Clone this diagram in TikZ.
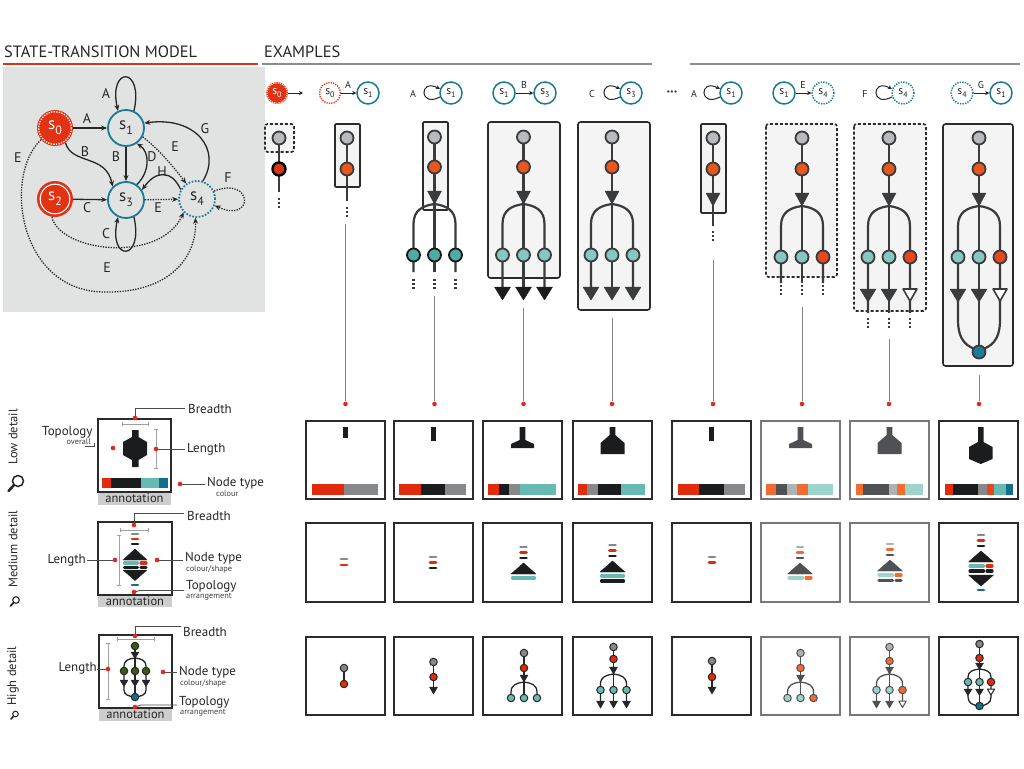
\documentclass[tikz,border=0pt]{standalone}
\usepackage{fontspec}
\setmainfont{PT Sans}
\usetikzlibrary{arrows.meta}
\definecolor{redS}{RGB}{226,50,20}
\definecolor{tealS}{RGB}{26,122,150}
\definecolor{bgG}{RGB}{225,226,226}
\definecolor{lineD}{RGB}{58,59,61}
\definecolor{nGray}{RGB}{185,186,189}
\definecolor{nOrange}{RGB}{232,88,30}
\definecolor{nRed}{RGB}{217,56,15}
\definecolor{nRed2}{RGB}{230,72,25}
\definecolor{nTeal}{RGB}{78,172,163}
\definecolor{nLTeal}{RGB}{134,200,192}
\definecolor{nBlue}{RGB}{30,122,152}
\definecolor{boxF}{RGB}{244,244,244}
\definecolor{bRed}{RGB}{226,42,12}
\definecolor{bBlack}{RGB}{27,28,30}
\definecolor{bGray}{RGB}{135,136,138}
\definecolor{bTeal}{RGB}{102,186,178}
\definecolor{bDTeal}{RGB}{20,112,138}
\definecolor{bOrange}{RGB}{242,107,48}
\definecolor{bDGray}{RGB}{80,81,85}
\definecolor{bLGray}{RGB}{176,177,179}
\definecolor{bLTeal}{RGB}{157,213,205}
\definecolor{olive}{RGB}{62,88,22}
\definecolor{dotR}{RGB}{232,37,26}
\definecolor{thinG}{RGB}{130,130,130}
\definecolor{boxK}{RGB}{43,43,43}
\definecolor{boxGr}{RGB}{120,120,122}
\definecolor{lineGr}{RGB}{140,140,140}
\definecolor{annG}{RGB}{205,205,205}
\definecolor{brkG}{RGB}{160,160,160}
% down triangle: x, ytop, halfwidth, height, style
\newcommand{\dtri}[5]{\filldraw[#5] ({#1-#3},#2) -- ({#1+#3},#2) -- (#1,{#2+#4}) -- cycle;}
% up triangle: x, ybase, halfwidth, height, style
\newcommand{\utri}[5]{\filldraw[#5] ({#1-#3},#2) -- ({#1+#3},#2) -- (#1,{#2-#4}) -- cycle;}
% branches: cx, ystart, dx, curve length, yend, style
\newcommand{\brn}[6]{%
 \draw[#6] (#1,#2) .. controls ({#1-0.55*#3},{#2+0.08*#4}) and ({#1-#3},{#2+0.3*#4}) .. ({#1-#3},{#2+#4}) -- ({#1-#3},#5);
 \draw[#6] (#1,#2) .. controls ({#1+0.55*#3},{#2+0.08*#4}) and ({#1+#3},{#2+0.3*#4}) .. ({#1+#3},{#2+#4}) -- ({#1+#3},#5);
 \draw[#6] (#1,#2) -- (#1,#5);}
% merge: cx, ystart, dx, curve length, yend, style
\newcommand{\mrg}[6]{%
 \draw[#6] ({#1-#3},#2) -- ({#1-#3},{#5-#4}) .. controls ({#1-#3},{#5-0.3*#4}) and ({#1-0.55*#3},{#5-0.08*#4}) .. (#1,#5);
 \draw[#6] ({#1+#3},#2) -- ({#1+#3},{#5-#4}) .. controls ({#1+#3},{#5-0.3*#4}) and ({#1+0.55*#3},{#5-0.08*#4}) .. (#1,#5);
 \draw[#6] (#1,#2) -- (#1,#5);}
\newcommand{\tdots}[3]{\draw[dotsty] (#1,#2) -- (#1,#3);}
\newcommand{\hb}[5]{\fill[#5] (#1,#3) rectangle (#2,#4);}
\newcommand{\mdash}[3]{\draw[mdst,#3] ({#1-3},#2) -- ({#1+3},#2);}
\newcommand{\mbar}[4]{\draw[mbst,#4] ({#1+1.5},#3) -- ({#2-1.5},#3);}
\newcommand{\sn}[2]{s\raisebox{-0.28em}{\fontsize{#2}{#2}\selectfont #1}}
\begin{document}
\begin{tikzpicture}[x=1pt,y=-1pt,
  title/.style={font=\fontsize{16.4}{16.4}\selectfont, text=black!85, inner sep=0},
  sred/.style={circle, minimum size=36, inner sep=0, fill=redS, text=white, font=\fontsize{17}{17}\selectfont},
  st/.style={circle, minimum size=36, inner sep=0, draw=tealS, line width=1.8, fill=bgG, text=black!85, font=\fontsize{17}{17}\selectfont},
  edge/.style={line width=1.3, draw=black!85, -{Stealth[length=6pt,width=5pt]}},
  dotl/.style={dash pattern=on 1.3pt off 1.3pt},
  lab/.style={font=\fontsize{14}{14}\selectfont, text=black!85, inner sep=1},
  sm/.style={circle, minimum size=22, inner sep=0, draw=tealS, line width=1.5, fill=white, text=black!85, font=\fontsize{11.5}{11.5}\selectfont},
  smout/.style={circle, minimum size=21, inner sep=0, draw=redS, line width=1.4, dash pattern=on 1.2pt off 1.2pt, fill=white, text=black!85, font=\fontsize{11.5}{11.5}\selectfont},
  smred/.style={circle, minimum size=22, inner sep=0, fill=redS, text=white, font=\fontsize{11.5}{11.5}\selectfont},
  smedge/.style={line width=1, draw=black!85, -{Stealth[length=4pt,width=4pt]}},
  smlab/.style={font=\fontsize{10}{10}\selectfont, text=black!85, inner sep=1},
  tnode/.style={circle, minimum size=13, inner sep=0, line width=1.8, draw=lineD},
  tline/.style={line width=2.2, draw=lineD},
  tri/.style={fill=lineD, draw=lineD, line width=0.5, line join=round},
  exbox/.style={line width=1.6, draw=boxK, fill=boxF, rounded corners=2.5},
  exdash/.style={line width=1.6, draw=boxK, fill=boxF, rounded corners=2.5, dash pattern=on 3pt off 2pt},
  dotsty/.style={line width=2.2, draw=lineD, dash pattern=on 2pt off 2pt},
  thinl/.style={line width=0.9, draw=thinG},
  rdot/.style={fill=dotR},
  lbox/.style={line width=1.8, draw=boxK, fill=white},
  lboxg/.style={line width=1.8, draw=boxGr, fill=white},
  mdst/.style={line width=2.8, line cap=round},
  mbst/.style={line width=3.2, line cap=round},
  hn/.style={circle, minimum size=7.5, inner sep=0, line width=1, draw=black!85},
  hng/.style={circle, minimum size=7.5, inner sep=0, line width=1, draw=bDGray},
  hline/.style={line width=1.3, draw=black!85},
  hlineg/.style={line width=1.3, draw=bDGray},
  htri/.style={fill=black!85, draw=black!85, line width=0.5, line join=round},
  htrig/.style={fill=bDGray, draw=bDGray, line width=0.5, line join=round},
  leglab/.style={font=\fontsize{13}{13}\selectfont, text=black!85, inner sep=0},
  legsmall/.style={font=\fontsize{8.3}{8.3}\selectfont, text=black!75, inner sep=0},
  legline/.style={line width=0.9, draw=black!70},
  brk/.style={line width=0.8, draw=brkG},
  annot/.style={font=\fontsize{12.5}{12.5}\selectfont, text=black!85, inner sep=0},
  side/.style={font=\fontsize{12.5}{12.5}\selectfont, text=black!85, inner sep=0, rotate=90}
]
\useasboundingbox (0,0) rectangle (1024,768);
\fill[white] (0,0) rectangle (1024,768);

% ===== titles =====
\node[title, anchor=base west] (ttl1) at (4,57) {STATE-TRANSITION MODEL};
\node[title, anchor=base west] (ttl2) at (264,57) {EXAMPLES};
\draw[redS, line width=2.5] (3,64) -- (258,64);
\draw[lineGr, line width=1.8] (262,64) -- (652,64);
\draw[lineGr, line width=1.8] (690,64) -- (1020,64);
\fill[bgG] (3,67) rectangle (265,312);

% ===== state diagram =====
\node[sred] (s0) at (55,128) {\sn{0}{12}};
\draw[white, line width=1.3, dash pattern=on 1.3pt off 1.3pt] (s0.center) circle (16.3);
\node[sred] (s2) at (55,199) {\sn{2}{12}};
\draw[white, line width=1.1] (s2.center) circle (14.8);
\node[st] (s1) at (126,128) {\sn{1}{12}};
\node[st] (s3) at (126,200) {\sn{3}{12}};
\node[st, dash pattern=on 1.6pt off 1.6pt] (s4) at (197,199) {\sn{4}{12}};

\draw[edge] (s1.65) .. controls (144,66) and (108,66) .. (s1.115);
\node[lab] (lA1) at (106,94) {A};
\draw[edge] (s0) -- (s1);
\node[lab] (lA2) at (87,119) {A};
\draw[edge] (s0.-55) .. controls (72,165) and (106,154) .. (s3.135);
\node[lab] (lB1) at (85,152) {B};
\draw[edge] (s1) -- (s3);
\node[lab] (lB2) at (116,157) {B};
\draw[edge] (s3.55) .. controls (150,172) and (150,152) .. (s1.-55);
\node[lab] (lD) at (152,157) {D};
\draw[edge, dotl] (s1.-28) .. controls (160,150) and (176,170) .. (s4.125);
\node[lab] (lE1) at (175,147) {E};
\draw[edge] (s4.72) .. controls (222,150) and (196,116) .. (s1.15);
\node[lab] (lG) at (205,129) {G};
\draw[edge] (s4.150) .. controls (172,170) and (156,170) .. (s3.32);
\node[lab] (lH) at (162,172) {H};
\draw[edge, dotl] (s3) -- (s4);
\node[lab] (lE2) at (158,208) {E};
\draw[edge] (s2) -- (s3);
\node[lab] (lC1) at (87,208) {C};
\draw[edge] (s3.-65) .. controls (144,262) and (108,262) .. (s3.-115);
\node[lab] (lC2) at (106,234) {C};
\draw[edge, dotl] (s4.25) .. controls (254,176) and (254,224) .. (s4.-20);
\node[lab] (lF) at (228,178) {F};
\draw[edge, dotl] (s2.-100) .. controls (60,252) and (160,264) .. (s4.-135);
\node[lab] (lE3) at (107,268) {E};
\draw[edge, dotl] (s0.-140) .. controls (3,175) and (18,292) .. (105,292) .. controls (172,293) and (197,255) .. (s4.-95);
\node[lab] (lE4) at (18,158) {E};

% ===== top row of examples =====
\node[smred] (x1a) at (277,93) {\sn{0}{8}};
\draw[white, line width=1.1, dash pattern=on 1.1pt off 1.1pt] (x1a.center) circle (10.2);
\coordinate (x1e) at (303,93);
\draw[smedge] (x1a) -- (x1e);

\node[smout] (x2a) at (330,93) {\sn{0}{8}};
\node[sm] (x2b) at (368,93) {\sn{1}{8}};
\draw[smedge] (x2a) -- (x2b);
\node[smlab] (x2l) at (348,85) {A};

\node[smlab] (x3l) at (413,94) {A};
\node[sm] (x3b) at (451,93) {\sn{1}{8}};
\draw[smedge] (x3b.200) .. controls (419,108) and (419,78) .. (x3b.160);

\node[sm] (x4a) at (504,93) {\sn{1}{8}};
\node[sm] (x4b) at (545,93) {\sn{3}{8}};
\draw[smedge] (x4a) -- (x4b);
\node[smlab] (x4l) at (524,85) {B};

\node[smlab] (x5l) at (592,94) {C};
\node[sm] (x5b) at (631,93) {\sn{3}{8}};
\draw[smedge] (x5b.200) .. controls (599,108) and (599,78) .. (x5b.160);

\node[font=\fontsize{8}{8}\selectfont, text=black!80] (xdots) at (672,93) {\textbullet\textbullet\textbullet};

\node[smlab] (x6l) at (694,94) {A};
\node[sm] (x6b) at (731,93) {\sn{1}{8}};
\draw[smedge] (x6b.200) .. controls (699,108) and (699,78) .. (x6b.160);

\node[sm] (x7a) at (784,93) {\sn{1}{8}};
\node[sm, dash pattern=on 1.3pt off 1.3pt] (x7b) at (823,93) {\sn{4}{8}};
\draw[smedge] (x7a) -- (x7b);
\node[smlab] (x7l) at (803,85) {E};

\node[smlab] (x8l) at (865,94) {F};
\node[sm, dash pattern=on 1.3pt off 1.3pt] (x8b) at (903,93) {\sn{4}{8}};
\draw[smedge] (x8b.200) .. controls (871,108) and (871,78) .. (x8b.160);

\node[sm, dash pattern=on 1.3pt off 1.3pt] (x9a) at (962,93) {\sn{4}{8}};
\node[sm] (x9b) at (1001,93) {\sn{1}{8}};
\draw[smedge] (x9a) -- (x9b);
\node[smlab] (x9l) at (981,85) {G};

% ===== example trees =====
% ex1
\draw[exdash] (265,124) rectangle (294,152);
\draw[tline] (279,138) -- (279,192);
\node[tnode, fill=nGray] (e1a) at (279,138) {};
\node[tnode, fill=nRed, draw=black, line width=2.4] (e1b) at (279,169) {};
\tdots{279}{198}{209}

% ex2
\draw[exbox, rounded corners=1] (335,124) rectangle (360,187);
\draw[tline] (347,138) -- (347,201);
\node[tnode, fill=nGray] (e2a) at (347,138) {};
\node[tnode, fill=nOrange] (e2b) at (347,169) {};
\tdots{347}{207}{218}
\draw[thinl] (345.5,224) -- (345.5,401);

% ex3
\draw[exbox, rounded corners=1] (423,122) rectangle (448,210);
\draw[tline] (434.5,137) -- (434.5,205);
\brn{434.5}{204}{21}{20}{272}{tline}
\dtri{434.5}{191}{7}{13}{tri}
\node[tnode, fill=nGray] (e3a) at (434.5,137) {};
\node[tnode, fill=nOrange] (e3b) at (434.5,167) {};
\node[tnode, fill=nTeal, draw=black!90] (e3c) at (413.5,255) {};
\node[tnode, fill=nTeal, draw=black!90] (e3d) at (434.5,255) {};
\node[tnode, fill=nTeal, draw=black!90] (e3e) at (455.5,255) {};
\tdots{413.5}{279}{290}
\tdots{434.5}{279}{290}
\tdots{455.5}{279}{290}
\draw[thinl] (434.5,296) -- (434.5,401);

% ex4
\draw[exbox] (488,122) rectangle (560,278);
\draw[tline] (523.5,137) -- (523.5,205);
\brn{523.5}{204}{21}{20}{289}{tline}
\dtri{523.5}{191}{7}{13}{tri}
\node[tnode, fill=nGray] (e4a) at (523.5,137) {};
\node[tnode, fill=nOrange] (e4b) at (523.5,167) {};
\node[tnode, fill=nLTeal] (e4c) at (502.5,255) {};
\node[tnode, fill=nLTeal] (e4d) at (523.5,255) {};
\node[tnode, fill=nLTeal] (e4e) at (544.5,255) {};
\dtri{502.5}{287}{8}{13}{fill=bBlack, draw=bBlack, line join=round}
\dtri{523.5}{287}{8}{13}{fill=bBlack, draw=bBlack, line join=round}
\dtri{544.5}{287}{8}{13}{fill=bBlack, draw=bBlack, line join=round}
\draw[thinl] (523.5,308) -- (523.5,401);

% ex5
\draw[exbox] (578,122) rectangle (650,310);
\draw[tline] (612,137) -- (612,205);
\brn{612}{204}{21}{20}{289}{tline}
\dtri{612}{191}{7}{13}{tri}
\node[tnode, fill=nGray] (e5a) at (612,137) {};
\node[tnode, fill=nOrange] (e5b) at (612,167) {};
\node[tnode, fill=nLTeal] (e5c) at (591,255) {};
\node[tnode, fill=nLTeal] (e5d) at (612,255) {};
\node[tnode, fill=nLTeal] (e5e) at (633,255) {};
\dtri{591}{287}{8}{13}{tri}
\dtri{612}{287}{8}{13}{tri}
\dtri{633}{287}{8}{13}{tri}
\draw[thinl] (612,318) -- (612,401);

% ex6
\draw[exbox, rounded corners=1] (701,124) rectangle (726,213);
\draw[tline] (713,138) -- (713,226);
\dtri{713}{193}{7}{13}{tri}
\node[tnode, fill=nGray] (e6a) at (713,138) {};
\node[tnode, fill=nOrange] (e6b) at (713,169) {};
\tdots{713}{231}{242}
\draw[thinl] (713,260) -- (713,401);

% ex7
\draw[exdash] (766,124) rectangle (837,277);
\draw[tline] (802,138) -- (802,207);
\brn{802}{206}{21}{20}{283}{tline}
\dtri{802}{193}{7}{13}{tri}
\node[tnode, fill=nGray] (e7a) at (802,138) {};
\node[tnode, fill=nOrange] (e7b) at (802,169) {};
\node[tnode, fill=nLTeal] (e7c) at (781,257) {};
\node[tnode, fill=nLTeal] (e7d) at (802,257) {};
\node[tnode, fill=nRed2] (e7e) at (823,257) {};
\tdots{781}{285}{296}
\tdots{802}{285}{296}
\tdots{823}{285}{296}
\draw[thinl] (802,307) -- (802,401);

% ex8
\draw[exdash] (854,124) rectangle (926,311);
\draw[tline] (889,138) -- (889,207);
\brn{889}{206}{21}{20}{313}{tline}
\dtri{889}{193}{7}{13}{tri}
\node[tnode, fill=nGray] (e8a) at (889,138) {};
\node[tnode, fill=nOrange] (e8b) at (889,169) {};
\node[tnode, fill=nLTeal] (e8c) at (868,257) {};
\node[tnode, fill=nLTeal] (e8d) at (889,257) {};
\node[tnode, fill=nRed2] (e8e) at (910,257) {};
\dtri{868}{289}{8}{13}{tri}
\dtri{889}{289}{8}{13}{tri}
\dtri{910}{289}{7}{12}{fill=white, draw=lineD, line width=1.6, line join=round}
\tdots{868}{318}{329}
\tdots{889}{318}{329}
\tdots{910}{318}{329}
\draw[thinl] (889,339) -- (889,401);

% ex9
\draw[exbox] (943,124) rectangle (1013,366);
\draw[tline] (979,138) -- (979,207);
\brn{979}{206}{21}{20}{302}{tline}
\mrg{979}{300}{21}{30}{350}{tline}
\dtri{979}{193}{7}{13}{tri}
\node[tnode, fill=nGray] (e9a) at (979,138) {};
\node[tnode, fill=nOrange] (e9b) at (979,169) {};
\node[tnode, fill=nLTeal] (e9c) at (958,257) {};
\node[tnode, fill=nLTeal] (e9d) at (979,257) {};
\node[tnode, fill=nRed2] (e9e) at (1000,257) {};
\dtri{958}{289}{8}{13}{tri}
\dtri{979}{289}{8}{13}{tri}
\dtri{1000}{289}{7}{12}{fill=white, draw=lineD, line width=1.6, line join=round}
\node[tnode, fill=nBlue] (e9f) at (979,352) {};
\draw[thinl] (979,375) -- (979,401);

% red dots
\foreach \xx in {345.5,434.5,523.5,612,713,802,889,979} \fill[rdot] (\xx,404) circle (2.3);

% ===== low detail row =====
\draw[lbox] (306,421) rectangle (385,499);
\draw[lbox] (394,421) rectangle (473,499);
\draw[lbox] (483,421) rectangle (562,499);
\draw[lbox] (573,421) rectangle (652,499);
\draw[lbox] (672,421) rectangle (751,499);
\draw[lboxg] (761,421) rectangle (840,499);
\draw[lboxg] (850,421) rectangle (929,499);
\draw[lbox] (939,421) rectangle (1018,499);
% box1
\fill[bBlack] (343,427) rectangle (348,438);
\hb{312}{344}{484}{495}{bRed}\hb{344}{378}{484}{495}{bGray}
% box2
\fill[bBlack] (431,427) rectangle (436,441);
\hb{399}{421}{484}{495}{bRed}\hb{421}{445}{484}{495}{bBlack}\hb{445}{466}{484}{495}{bGray}
% box3
\fill[bBlack] (519.7,427) -- (525.3,427) -- (525.3,440) -- (534,444) -- (534,448) -- (511,448) -- (511,444) -- (519.7,440) -- cycle;
\hb{488}{499}{484}{495}{bRed}\hb{499}{509}{484}{495}{bBlack}\hb{509}{520}{484}{495}{bGray}\hb{520}{556}{484}{495}{bTeal}
% box4
\fill[bBlack] (609.7,427) -- (615.3,427) -- (615.3,435) -- (624.5,443) -- (624.5,454) -- (600.5,454) -- (600.5,443) -- (609.7,435) -- cycle;
\hb{578}{587}{484}{495}{bRed}\hb{587}{598}{484}{495}{bGray}\hb{598}{621}{484}{495}{bBlack}\hb{621}{645}{484}{495}{bTeal}
% box5
\fill[bBlack] (709,427) rectangle (714,441);
\hb{678}{699}{484}{495}{bRed}\hb{699}{724}{484}{495}{bBlack}\hb{724}{745}{484}{495}{bGray}
% box6
\fill[bDGray] (797.7,427) -- (803.3,427) -- (803.3,440) -- (812,444) -- (812,448) -- (789,448) -- (789,444) -- (797.7,440) -- cycle;
\hb{766}{776}{484}{495}{bOrange}\hb{776}{787}{484}{495}{bDGray}\hb{787}{797}{484}{495}{bLGray}\hb{797}{808}{484}{495}{bOrange}\hb{808}{833}{484}{495}{bLTeal}
% box7
\fill[bDGray] (886.7,427) -- (892.3,427) -- (892.3,435) -- (901.5,443) -- (901.5,454) -- (877.5,454) -- (877.5,443) -- (886.7,435) -- cycle;
\hb{856}{863}{484}{495}{bOrange}\hb{863}{889}{484}{495}{bDGray}\hb{889}{897}{484}{495}{bLGray}\hb{897}{905}{484}{495}{bOrange}\hb{905}{923}{484}{495}{bLTeal}
% box8
\fill[bBlack] (978,427) -- (983.5,427) -- (983.5,442) -- (992.5,447) -- (992.5,459) -- (980.7,464) -- (969,459) -- (969,447) -- (978,442) -- cycle;
\hb{945}{953}{484}{495}{bRed}\hb{953}{978}{484}{495}{bBlack}\hb{978}{987}{484}{495}{bGray}\hb{987}{994}{484}{495}{nRed2}\hb{994}{1006}{484}{495}{bTeal}\hb{1006}{1013}{484}{495}{bDTeal}

% ===== medium detail row =====
\draw[lbox] (306,523) rectangle (385,602);
\draw[lbox] (394,523) rectangle (473,602);
\draw[lbox] (483,523) rectangle (562,602);
\draw[lbox] (573,523) rectangle (652,602);
\draw[lbox] (672,523) rectangle (751,602);
\draw[lboxg] (761,523) rectangle (840,602);
\draw[lboxg] (850,523) rectangle (929,602);
\draw[lbox] (939,523) rectangle (1018,602);
% box1
\mdash{344}{559}{bGray}\mdash{344}{565}{bRed}
% box2
\mdash{433}{557}{bGray}\mdash{433}{562.5}{bRed}\mdash{433}{568}{bBlack}
% box3
\mdash{523.5}{547}{bGray}\mdash{523.5}{552.5}{bRed}\mdash{523.5}{558}{bBlack}
\utri{523.5}{574}{12.5}{11}{fill=bBlack, draw=bBlack, line join=round}
\mbar{511}{536}{578}{bTeal}
% box4
\mdash{612.5}{545}{bGray}\mdash{612.5}{550.5}{bRed}\mdash{612.5}{556}{bBlack}
\utri{612.5}{572}{12.5}{11}{fill=bBlack, draw=bBlack, line join=round}
\mbar{600}{625}{576}{bTeal}\mbar{600}{625}{581}{bBlack}
% box5
\mdash{712}{557}{bGray}\mdash{712}{562.5}{bRed}
% box6
\mdash{800}{547}{bLGray}\mdash{800}{552.5}{bOrange}\mdash{800}{558}{bDGray}
\utri{800}{574}{12.5}{11}{fill=bDGray, draw=bDGray, line join=round}
\mbar{787.5}{804}{578}{bLTeal}\mbar{804.5}{812.5}{578}{bOrange}
% box7
\mdash{890}{544}{bLGray}\mdash{890}{549.5}{bOrange}\mdash{890}{555}{bDGray}
\utri{890}{571}{12.5}{11}{fill=bDGray, draw=bDGray, line join=round}
\mbar{877.5}{894}{575}{bLTeal}\mbar{894.5}{902.5}{575}{bOrange}
\mbar{877.5}{894}{580.5}{bDGray}\mbar{894.5}{902.5}{580.5}{bDGray}
% box8
\mdash{981}{535}{bGray}\mdash{981}{540.5}{bRed}\mdash{981}{546}{bBlack}
\utri{981}{562}{12.5}{11}{fill=bBlack, draw=bBlack, line join=round}
\mbar{968.5}{985}{566}{bTeal}\mbar{985.5}{993.5}{566}{bRed}
\mbar{968.5}{985}{571}{bBlack}\mbar{985.5}{993.5}{571}{bBlack}
\dtri{981}{575}{12.5}{11}{fill=bBlack, draw=bBlack, line join=round}
\mdash{981}{590}{bDTeal}

% ===== high detail row =====
\draw[lbox] (306,637) rectangle (385,715);
\draw[lbox] (394,637) rectangle (473,715);
\draw[lbox] (483,637) rectangle (562,715);
\draw[lbox] (573,637) rectangle (652,715);
\draw[lbox] (672,637) rectangle (751,715);
\draw[lboxg] (761,637) rectangle (840,715);
\draw[lboxg] (850,637) rectangle (929,715);
\draw[lbox] (939,637) rectangle (1018,715);
% box1
\draw[hline] (344,668) -- (344,684);
\node[hn, fill=bGray] (h1a) at (344,668) {};
\node[hn, fill=bRed] (h1b) at (344,684) {};
% box2
\draw[hline] (433.5,662) -- (433.5,688);
\dtri{433.5}{687}{4}{7}{htri}
\node[hn, fill=bGray] (h2a) at (433.5,662) {};
\node[hn, fill=bRed] (h2b) at (433.5,677) {};
% box3
\draw[hline] (524,653) -- (524,683);
\brn{524}{682}{13}{10}{698}{hline}
\dtri{524}{675}{4}{7}{htri}
\node[hn, fill=bGray] (h3a) at (524,653) {};
\node[hn, fill=bRed] (h3b) at (524,668) {};
\node[hn, fill=bTeal] (h3c) at (511,698) {};
\node[hn, fill=bTeal] (h3d) at (524,698) {};
\node[hn, fill=bTeal] (h3e) at (537,698) {};
% box4
\draw[hline] (613.5,647) -- (613.5,675);
\brn{613.5}{674}{13}{10}{702}{hline}
\dtri{613.5}{667}{4}{7}{htri}
\node[hn, fill=bGray] (h4a) at (613.5,647) {};
\node[hn, fill=bRed] (h4b) at (613.5,659) {};
\node[hn, fill=bTeal] (h4c) at (600.5,690) {};
\node[hn, fill=bTeal] (h4d) at (613.5,690) {};
\node[hn, fill=bTeal] (h4e) at (626.5,690) {};
\dtri{600.5}{701}{4}{7}{htri}\dtri{613.5}{701}{4}{7}{htri}\dtri{626.5}{701}{4}{7}{htri}
% box5
\draw[hline] (712,661) -- (712,688);
\dtri{712}{687}{4}{7}{htri}
\node[hn, fill=bGray] (h5a) at (712,661) {};
\node[hn, fill=bRed] (h5b) at (712,677) {};
% box6
\draw[hlineg] (800.5,653) -- (800.5,683);
\brn{800.5}{682}{13}{10}{698}{hlineg}
\dtri{800.5}{675}{4}{7}{htrig}
\node[hng, fill=bLGray] (h6a) at (800.5,653) {};
\node[hng, fill=bOrange] (h6b) at (800.5,668) {};
\node[hng, fill=bLTeal] (h6c) at (787.5,698) {};
\node[hng, fill=bLTeal] (h6d) at (800.5,698) {};
\node[hng, fill=bOrange] (h6e) at (813.5,698) {};
% box7
\draw[hlineg] (889.5,647) -- (889.5,675);
\brn{889.5}{674}{13}{10}{702}{hlineg}
\dtri{889.5}{667}{4}{7}{htrig}
\node[hng, fill=bLGray] (h7a) at (889.5,647) {};
\node[hng, fill=bOrange] (h7b) at (889.5,661) {};
\node[hng, fill=bLTeal] (h7c) at (876.5,690) {};
\node[hng, fill=bLTeal] (h7d) at (889.5,690) {};
\node[hng, fill=bOrange] (h7e) at (902.5,690) {};
\dtri{876.5}{701}{4}{7}{htrig}\dtri{889.5}{701}{4}{7}{htrig}
\dtri{902.5}{701}{3.8}{6.5}{fill=white, draw=bDGray, line width=1, line join=round}
% box8
\draw[hline] (979.5,644) -- (979.5,670);
\brn{979.5}{669}{11.5}{8}{690}{hline}
\mrg{979.5}{694}{11.5}{9}{706}{hline}
\dtri{979.5}{663}{4}{6.5}{htri}
\node[hn, fill=bGray] (h8a) at (979.5,644) {};
\node[hn, fill=bRed] (h8b) at (979.5,658) {};
\node[hn, fill=bTeal] (h8c) at (968,682) {};
\node[hn, fill=bTeal] (h8d) at (979.5,682) {};
\node[hn, fill=bRed] (h8e) at (991,682) {};
\dtri{968}{689}{4}{6.5}{htri}\dtri{979.5}{689}{4}{6.5}{htri}
\dtri{991}{689}{3.6}{6}{fill=white, draw=black!85, line width=1, line join=round}
\node[hn, fill=bDTeal] (h8f) at (979.5,706) {};

% ===== left legend =====
\node[side] (sideL) at (13,437) {Low detail};
\node[side] (sideM) at (13,549) {Medium detail};
\node[side] (sideH) at (13,676) {High detail};
% magnifiers
\draw[black!85, line width=1.5] (18,481) circle (5.5);
\draw[black!85, line width=2.6, line cap=round] (14,485) -- (8.5,491);
\draw[black!85, line width=1.1] (16,600) circle (3.3);
\draw[black!85, line width=1.8, line cap=round] (13.6,602.6) -- (10.5,606);
\draw[black!85, line width=1] (15.5,714) circle (2.8);
\draw[black!85, line width=1.6, line cap=round] (13.5,716.2) -- (11,719);

% --- low legend ---
\fill[annG] (98,492) rectangle (171,505);
\node[annot] (annL) at (134.5,498.5) {annotation};
\draw[lbox] (98,419) rectangle (171,492);
\fill[bBlack] (132,430) -- (138.5,430) -- (138.5,437) -- (147,442) -- (147,455) -- (138.5,460) -- (138.5,467) -- (132,467) -- (132,460) -- (123,455) -- (123,442) -- (132,437) -- cycle;
\hb{102}{111}{478}{488}{bRed}\hb{111}{141}{478}{488}{bBlack}\hb{141}{159}{478}{488}{bTeal}\hb{159}{168}{478}{488}{bDTeal}
\draw[brk] (122,424) -- (148,424) (122,422) -- (122,426) (148,422) -- (148,426);
\draw[brk] (156,429) -- (156,468) (154,429) -- (158,429) (154,468) -- (158,468);
\draw[legline] (135,418) -- (135,408) -- (185,408);
\node[leglab, anchor=west] (brL) at (188,409) {Breadth};
\fill[rdot] (135,418) circle (2.3);
\draw[legline] (156,449) -- (185,449);
\node[leglab, anchor=west] (lnL) at (187,449) {Length};
\fill[rdot] (156,449) circle (2.3);
\node[leglab, anchor=west] (tpL) at (42,432) {Topology};
\node[legsmall, anchor=east] (ovL) at (91,442) {overall};
\draw[legline] (85,446.5) -- (94,446.5) -- (94,443);
\fill[rdot] (113,448) circle (2.3);
\draw[legline] (180,484) -- (205,484);
\node[leglab, anchor=west] (ntL) at (207,483) {Node type};
\node[legsmall, anchor=west] (ncL) at (216,494) {colour};
\fill[rdot] (180,484) circle (2.3);

% --- medium legend ---
\fill[annG] (98,595) rectangle (172,607);
\node[annot] (annM) at (135,601) {annotation};
\draw[lbox] (98,522) rectangle (172,595);
\mdash{135}{534}{bGray}\mdash{135}{539}{bRed}\mdash{135}{544}{bBlack}
\utri{135}{560}{12}{11}{fill=bBlack, draw=bBlack, line join=round}
\mbar{123}{139}{563}{bTeal}\mbar{139.5}{147.5}{563}{bRed}
\mbar{123}{139}{567.5}{bBlack}\mbar{139.5}{147.5}{567.5}{bBlack}
\dtri{135}{570}{12}{10.5}{fill=bBlack, draw=bBlack, line join=round}
\mdash{135}{585}{bDTeal}
\draw[brk] (120,530) -- (148,530) (120,528) -- (120,532) (148,528) -- (148,532);
\draw[brk] (119,535) -- (119,585) (117,535) -- (121,535) (117,585) -- (121,585);
\draw[legline] (134,525) -- (134,513) -- (184,513);
\node[leglab, anchor=west] (brM) at (187,516) {Breadth};
\fill[rdot] (134,525) circle (2.3);
\node[leglab, anchor=east] (lnM) at (86,560) {Length};
\draw[legline] (87,560) -- (115,560);
\fill[rdot] (115,560) circle (2.3);
\draw[legline] (157,560) -- (183,560);
\node[leglab, anchor=west] (ntM) at (185,558) {Node type};
\node[legsmall, anchor=west] (ncM) at (186,569.5) {colour/shape};
\fill[rdot] (157,560) circle (2.3);
\draw[legline] (134,592) -- (140,590.5) -- (184,590.5);
\node[leglab, anchor=west] (tpM) at (186,586) {Topology};
\node[legsmall, anchor=west] (arM) at (186,596.5) {arrangement};
\fill[rdot] (134,592) circle (2.3);

% --- high legend ---
\fill[annG] (99,708) rectangle (172,721);
\node[annot] (annH) at (135.5,714.5) {annotation};
\draw[lbox] (99,635) rectangle (172,708);
\draw[hline] (135,646) -- (135,659);
\brn{135}{658}{11}{8}{682}{hline}
\mrg{135}{686}{11}{7}{697}{hline}
\dtri{135}{652}{4}{6.5}{htri}
\node[hn, fill=olive] (g1) at (135,646) {};
\node[hn, fill=olive] (g2) at (124,671) {};
\node[hn, fill=olive] (g3) at (135,671) {};
\node[hn, fill=olive] (g4) at (146,671) {};
\dtri{124}{680}{4}{6.5}{htri}\dtri{135}{680}{4}{6.5}{htri}\dtri{146}{680}{4}{6.5}{htri}
\node[hn, fill=bDTeal] (g5) at (135,697) {};
\draw[brk] (117,639) -- (154,639) (117,637) -- (117,641) (154,637) -- (154,641);
\draw[brk] (108,643) -- (108,699) (106,643) -- (110,643) (106,699) -- (110,699);
\draw[legline] (135,636) -- (135,626) -- (181,626);
\node[leglab, anchor=west] (brH) at (183,632) {Breadth};
\fill[rdot] (135,636) circle (2.3);
\node[leglab, anchor=east] (lnH) at (97,668) {Length};
\draw[legline] (97,669) -- (108,669);
\fill[rdot] (108,669) circle (2.3);
\draw[legline] (163,672) -- (177,672);
\node[leglab, anchor=west] (ntH) at (179,672) {Node type};
\node[legsmall, anchor=west] (ncH) at (180,683) {colour/shape};
\fill[rdot] (163,672) circle (2.3);
\draw[legline] (135,707) -- (141,705) -- (177,705);
\node[leglab, anchor=west] (tpH) at (179,702) {Topology};
\node[legsmall, anchor=west] (arH) at (180,712.5) {arrangement};
\fill[rdot] (135,707) circle (2.3);
\end{tikzpicture}
\end{document}
